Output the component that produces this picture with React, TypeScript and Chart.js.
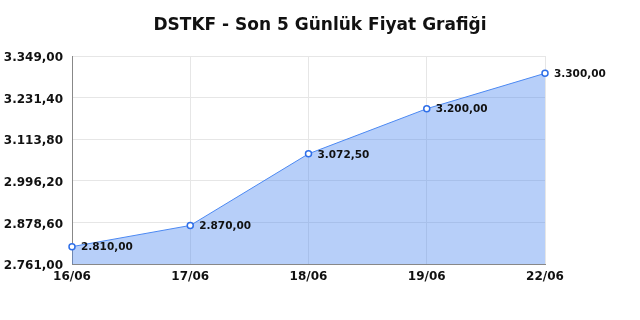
import React, { useEffect, useRef } from "react";
import { Chart, registerables } from "chart.js";

Chart.register(...registerables);

const TITLE = "DSTKF - Son 5 Günlük Fiyat Grafiği";
const categories = ["16/06", "17/06", "18/06", "19/06", "22/06"];
const prices = [2810.0, 2870.0, 3072.5, 3200.0, 3300.0];
const yTicks = [2761.0, 2878.6, 2996.2, 3113.8, 3231.4, 3349.0];

const fmt = (v: number) =>
  v.toLocaleString("tr-TR", { minimumFractionDigits: 2, maximumFractionDigits: 2 });

const FONT = "'DejaVu Sans', sans-serif";

const titlePlugin = {
  id: "customTitle",
  afterDraw(chart: any) {
    const ctx = chart.ctx;
    ctx.save();
    ctx.font = `bold 17px ${FONT}`;
    ctx.fillStyle = "#111";
    ctx.textAlign = "center";
    ctx.textBaseline = "middle";
    ctx.fillText(TITLE, 320, 26);
    ctx.restore();
  },
};

const labelPlugin = {
  id: "pointLabels",
  afterDatasetsDraw(chart: any) {
    const ctx = chart.ctx;
    const meta = chart.getDatasetMeta(0);
    ctx.save();
    ctx.font = `bold 10.5px ${FONT}`;
    ctx.fillStyle = "#111";
    ctx.textAlign = "left";
    ctx.textBaseline = "middle";
    meta.data.forEach((pt: any, i: number) => {
      ctx.fillText(fmt(prices[i]), pt.x + 9, pt.y + 1);
    });
    ctx.restore();
  },
};

export default function App() {
  const ref = useRef<HTMLCanvasElement>(null);
  useEffect(() => {
    if (!ref.current) return;
    const chart = new Chart(ref.current, {
      type: "line",
      data: {
        labels: categories,
        datasets: [
          {
            data: prices,
            borderColor: "#4b88f2",
            borderWidth: 1,
            backgroundColor: "rgba(74,134,240,0.4)",
            fill: "origin",
            tension: 0,
            pointRadius: 3,
            pointBorderWidth: 1.5,
            pointBackgroundColor: "#ffffff",
            pointBorderColor: "#2f6fe8",
          },
        ],
      },
      options: {
        animation: false,
        responsive: false,
        layout: { padding: { top: 56, right: 95, left: 0, bottom: 0 } },
        plugins: { legend: { display: false }, tooltip: { enabled: false }, title: { display: false } },
        scales: {
          x: {
            type: "category",
            offset: false,
            grid: { color: "#e6e6e6", drawTicks: false },
            border: { color: "#888", width: 1 },
            ticks: { font: { family: FONT, size: 12, weight: "bold" }, color: "#111", padding: 6, maxRotation: 0, autoSkip: false },
            afterFit: (s: any) => { s.height = 56; },
          },
          y: {
            min: 2761,
            max: 3349,
            grid: { color: "#e6e6e6", drawTicks: false },
            border: { color: "#888", width: 1 },
            ticks: {
              font: { family: FONT, size: 12, weight: "bold" },
              color: "#111",
              padding: 9,
              labelOffset: 2,
              callback: (v: any) => fmt(Number(v)),
            },
            afterBuildTicks: (s: any) => { s.ticks = yTicks.map((v) => ({ value: v })); },
            afterFit: (s: any) => { s.width = 72; },
          },
        },
      },
      plugins: [titlePlugin, labelPlugin],
    });
    return () => chart.destroy();
  }, []);
  return (
    <div style={{ position: "absolute", left: 0, top: 0, width: 640, height: 320, background: "#fff" }}>
      <canvas ref={ref} width={640} height={320} style={{ width: 640, height: 320 }} />
    </div>
  );
}
